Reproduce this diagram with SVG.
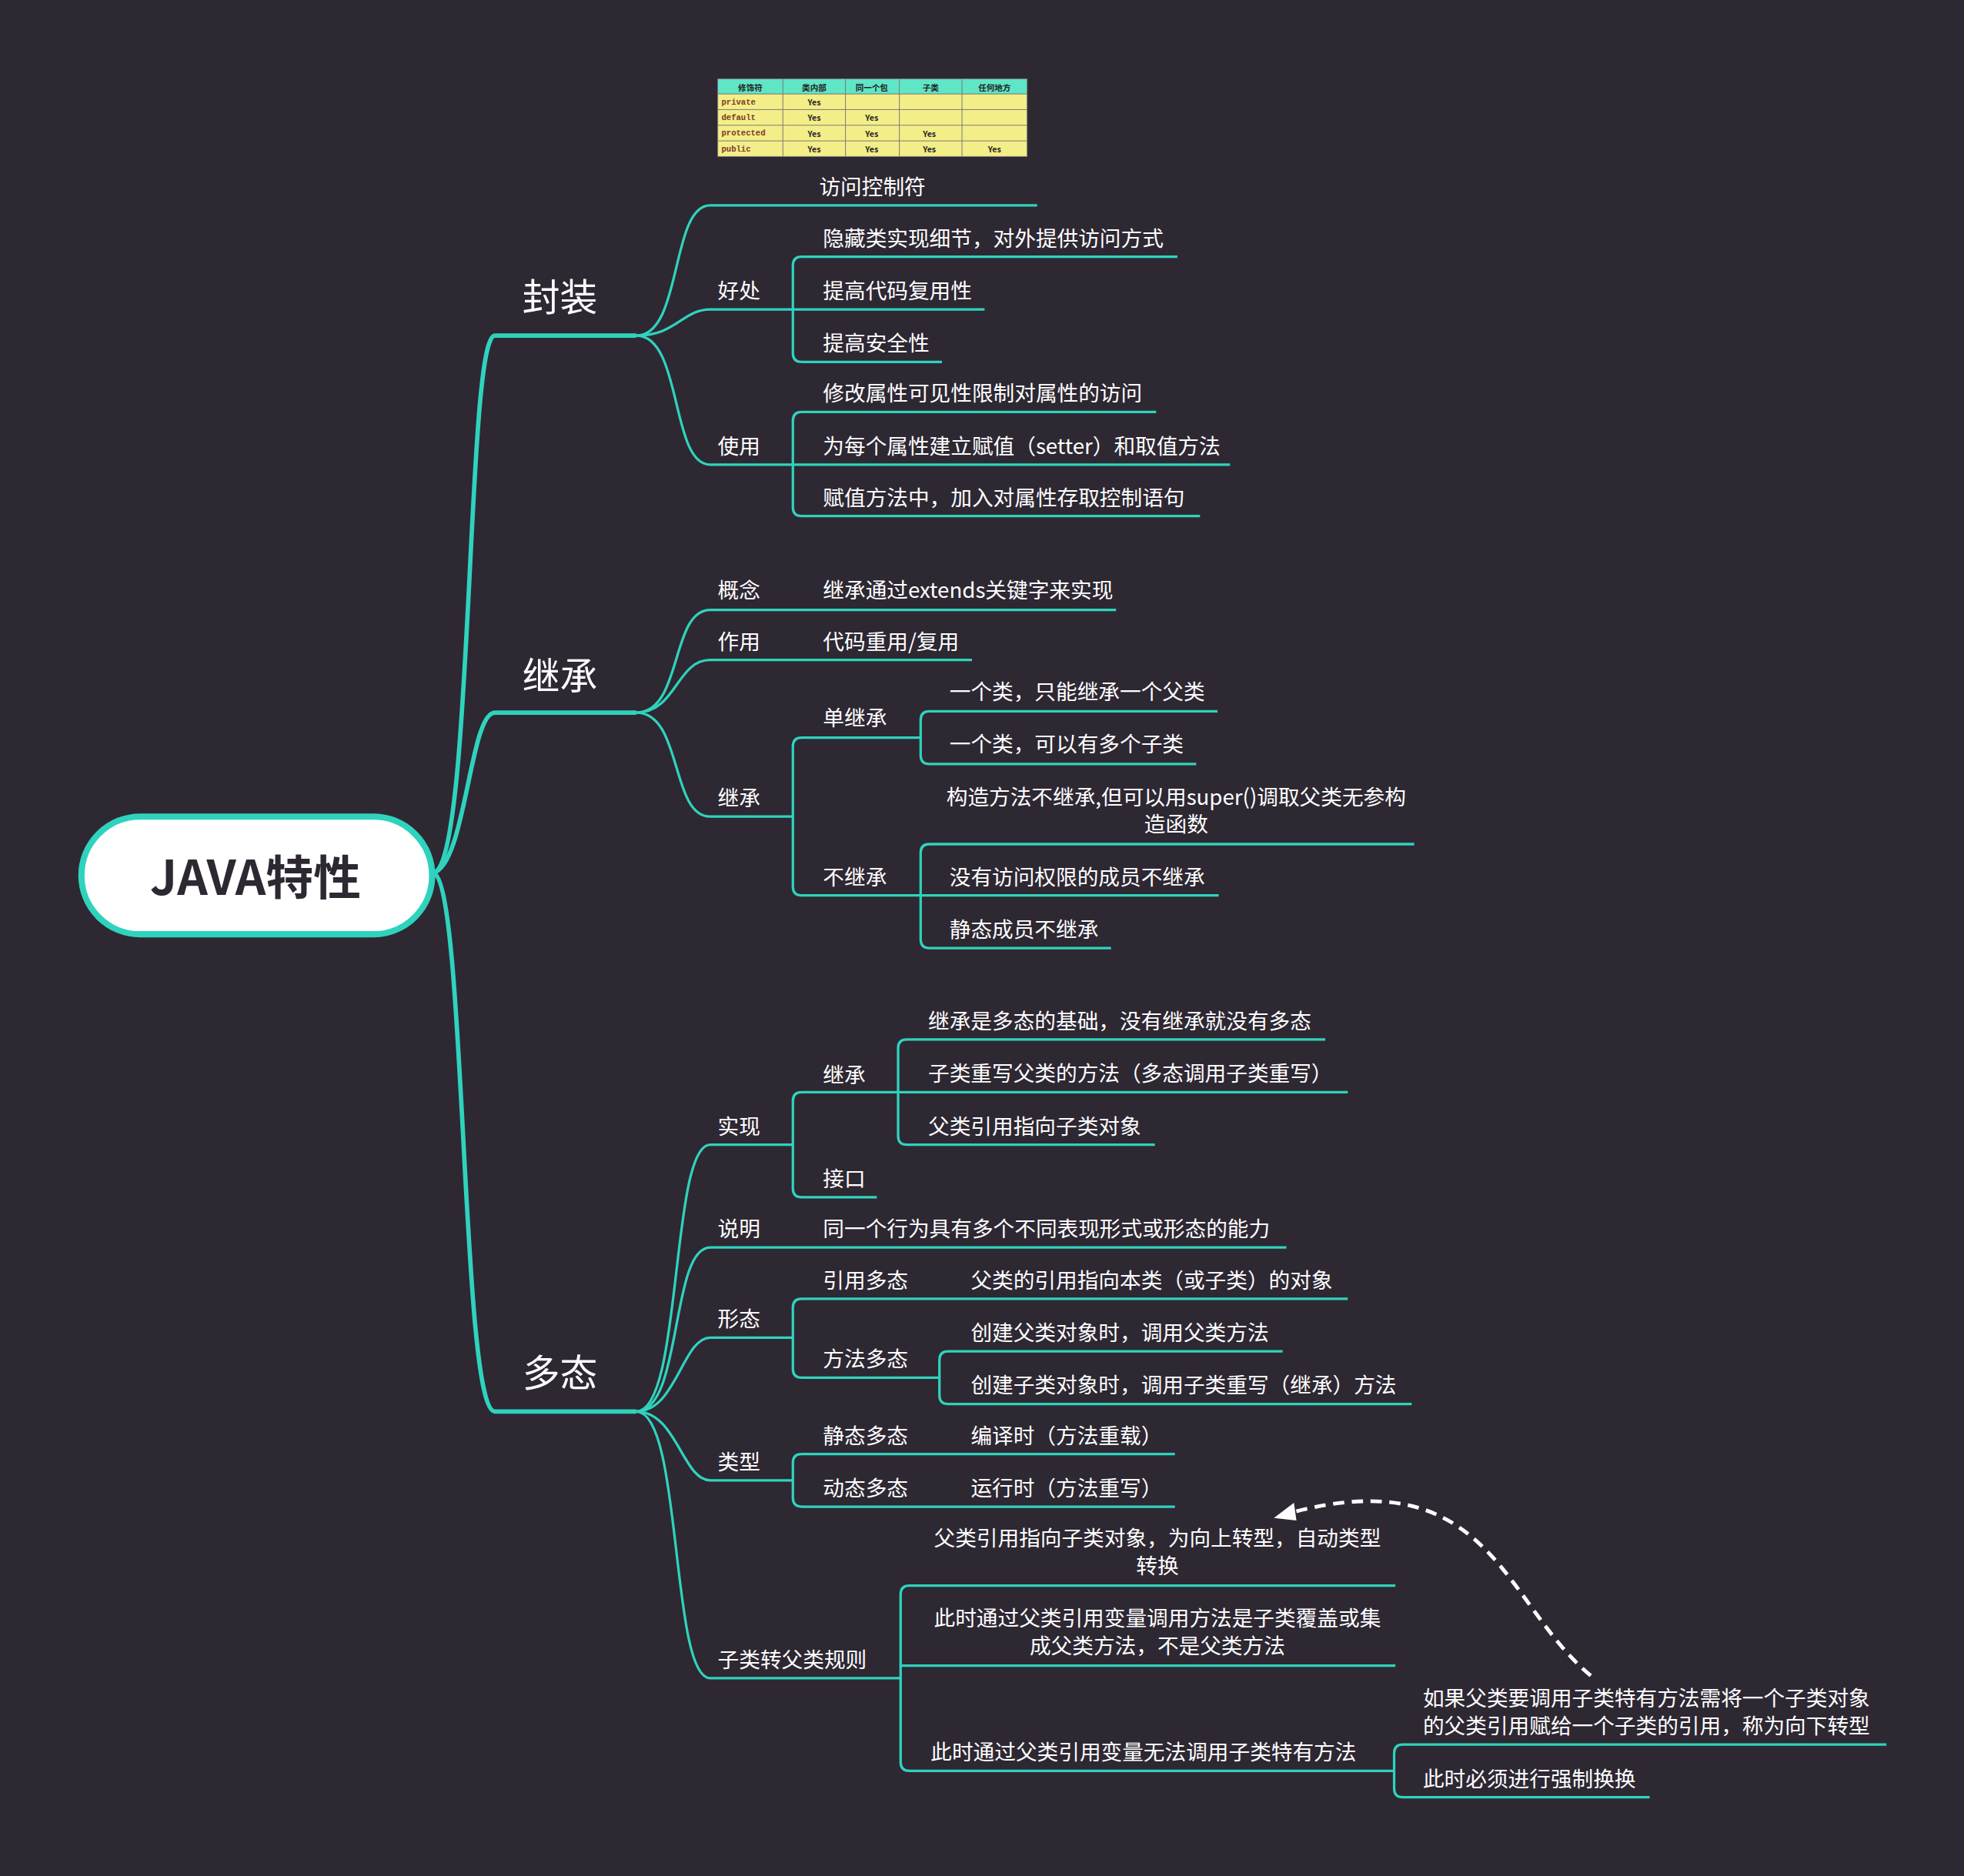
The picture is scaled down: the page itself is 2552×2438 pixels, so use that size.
<svg xmlns="http://www.w3.org/2000/svg" width="2552" height="2438" viewBox="0 0 2552 2438">
<style>
.l{fill:none;stroke:#2fd3bd;stroke-width:2}
.m{fill:none;stroke:#2fd3bd;stroke-width:3.5}
text{font-family:"Noto Sans CJK SC","Noto Sans",sans-serif;fill:#fff;dominant-baseline:central}
.t{font-size:17px}
.h{font-size:30px}
.tb{font-size:6.5px;fill:#222;font-weight:bold;text-anchor:middle}
.tm{font-family:"Liberation Mono",monospace;font-size:6.5px;fill:#7a3a2a;font-weight:bold}
</style>
<rect width="2552" height="2438" fill="#2e2833"/>
<g transform="scale(1.6276)">
<g id="connectors">
<path class="m" d="M346,697 C378,690 372,268 395,268 L508,268"/>
<path class="m" d="M346,697 C372,690 375,569 395,569 L508,569"/>
<path class="m" d="M346,697 C372,704 368,1127 395,1127 L508,1127"/>
<!-- 封装 -->
<path class="l" d="M508,268 C545,268 535,164 567,164 L828,164"/>
<path class="l" d="M508,268 C540,268 545,247 567,247 L633,247"/>
<path class="l" d="M508,268 C545,268 535,371 567,371 L633,371"/>
<path class="l" d="M640,205 L940,205 M640,205 Q633,205 633,212 L633,282 Q633,289 640,289 L752,289 M633,247 L786,247"/>
<path class="l" d="M640,329 L923,329 M640,329 Q633,329 633,336 L633,405 Q633,412 640,412 L958,412 M633,371 L982,371"/>
<!-- 继承 -->
<path class="l" d="M508,569 C545,569 535,487 567,487 L891,487"/>
<path class="l" d="M508,569 C540,569 540,527 567,527 L776,527"/>
<path class="l" d="M508,569 C545,569 535,652 567,652 L633,652"/>
<path class="l" d="M640,589 L735,589 M640,589 Q633,589 633,596 L633,708 Q633,715 640,715 L735,715"/>
<path class="l" d="M742,568 L972,568 M742,568 Q735,568 735,575 L735,603 Q735,610 742,610 L955,610 M735,589 L735,589"/>
<path class="l" d="M742,674 L1129,674 M742,674 Q735,674 735,681 L735,750 Q735,757 742,757 L887,757 M735,715 L973,715"/>
<!-- 多态 -->
<path class="l" d="M508,1127 C545,1127 535,914 567,914 L633,914"/>
<path class="l" d="M508,1127 C545,1127 535,996 567,996 L1027,996"/>
<path class="l" d="M508,1127 C540,1127 545,1068 567,1068 L633,1068"/>
<path class="l" d="M508,1127 C540,1127 545,1182 567,1182 L633,1182"/>
<path class="l" d="M508,1127 C545,1127 535,1340 567,1340 L719,1340"/>
<path class="l" d="M640,872 L717,872 M640,872 Q633,872 633,879 L633,949 Q633,956 640,956 L700,956"/>
<path class="l" d="M724,830 L1058,830 M724,830 Q717,830 717,837 L717,907 Q717,914 724,914 L922,914 M717,872 L1076,872"/>
<path class="l" d="M640,1037 L1076,1037 M640,1037 Q633,1037 633,1044 L633,1093 Q633,1100 640,1100 L750,1100"/>
<path class="l" d="M757,1079 L1024,1079 M757,1079 Q750,1079 750,1086 L750,1114 Q750,1121 757,1121 L1127,1121"/>
<path class="l" d="M640,1161 L938,1161 M640,1161 Q633,1161 633,1168 L633,1196 Q633,1203 640,1203 L938,1203"/>
<path class="l" d="M726,1266 L1114,1266 M726,1266 Q719,1266 719,1273 L719,1407 Q719,1414 726,1414 L1113,1414 M719,1330 L1114,1330"/>
<path class="l" d="M1120,1393 L1506,1393 M1120,1393 Q1113,1393 1113,1400 L1113,1428 Q1113,1435 1120,1435 L1317,1435"/>
<path d="M1270,1338 C1200,1280 1190,1165 1030,1208" fill="none" stroke="#fff" stroke-width="3" stroke-dasharray="9,6"/>
<path d="M1017,1212 L1033,1200 L1035,1214 Z" fill="#fff"/>
</g>
<g id="root">
<rect x="65" y="652" width="280" height="94" rx="47" fill="#fff" stroke="#2fd3bd" stroke-width="5"/>
<text x="204" y="698" text-anchor="middle" style="font-size:38px;font-weight:bold;fill:#2e2833">JAVA特性</text>
</g>
<g id="n-fengzhuang"><text class="h" x="417" y="235">封装</text></g>
<g id="n-jicheng"><text class="h" x="417" y="537">继承</text></g>
<g id="n-duotai"><text class="h" x="417" y="1094">多态</text></g>
<g id="table">
<rect x="573" y="63" width="247" height="12" fill="#5fe6c6"/>
<rect x="573" y="75" width="247" height="50" fill="#f3ee88"/>
<path d="M573,63H820V125H573Z M573,75H820 M573,87.5H820 M573,100H820 M573,112.5H820 M625,63V125 M675,63V125 M718,63V125 M768,63V125" fill="none" stroke="#777" stroke-width="0.6"/>
<text class="tb" x="599" y="69.5">修饰符</text><text class="tb" x="650" y="69.5">类内部</text><text class="tb" x="696" y="69.5">同一个包</text><text class="tb" x="743" y="69.5">子类</text><text class="tb" x="794" y="69.5">任何地方</text>
<text class="tm" x="576" y="81.5">private</text><text class="tm" x="576" y="94">default</text><text class="tm" x="576" y="106.5">protected</text><text class="tm" x="576" y="119">public</text>
<text class="tb" x="650" y="81.5">Yes</text><text class="tb" x="650" y="94">Yes</text><text class="tb" x="696" y="94">Yes</text><text class="tb" x="650" y="106.5">Yes</text><text class="tb" x="696" y="106.5">Yes</text><text class="tb" x="742" y="106.5">Yes</text>
<text class="tb" x="650" y="119">Yes</text><text class="tb" x="696" y="119">Yes</text><text class="tb" x="742" y="119">Yes</text><text class="tb" x="794" y="119">Yes</text>
</g>
<g id="n-fz"><text class="t" x="654" y="148">访问控制符</text></g>
<g id="n-hc"><text class="t" x="573" y="231">好处</text>
<text class="t" x="657" y="189">隐藏类实现细节，对外提供访问方式</text>
<text class="t" x="657" y="231">提高代码复用性</text>
<text class="t" x="657" y="273">提高安全性</text></g>
<g id="n-sy"><text class="t" x="573" y="355">使用</text>
<text class="t" x="657" y="313">修改属性可见性限制对属性的访问</text>
<text class="t" x="657" y="355">为每个属性建立赋值（setter）和取值方法</text>
<text class="t" x="657" y="396">赋值方法中，加入对属性存取控制语句</text></g>
<g id="n-gn"><text class="t" x="573" y="470">概念</text><text class="t" x="657" y="470">继承通过extends关键字来实现</text></g>
<g id="n-zy"><text class="t" x="573" y="511">作用</text><text class="t" x="657" y="511">代码重用/复用</text></g>
<g id="n-jc"><text class="t" x="573" y="636">继承</text>
<text class="t" x="657" y="572">单继承</text>
<text class="t" x="758" y="551">一个类，只能继承一个父类</text>
<text class="t" x="758" y="593">一个类，可以有多个子类</text>
<text class="t" x="657" y="699">不继承</text>
<text class="t" x="939" y="635" text-anchor="middle">构造方法不继承,但可以用super()调取父类无参构</text>
<text class="t" x="939" y="657" text-anchor="middle">造函数</text>
<text class="t" x="758" y="699">没有访问权限的成员不继承</text>
<text class="t" x="758" y="741">静态成员不继承</text></g>
<g id="n-sx"><text class="t" x="573" y="898">实现</text>
<text class="t" x="657" y="857">继承</text>
<text class="t" x="741" y="814">继承是多态的基础，没有继承就没有多态</text>
<text class="t" x="741" y="856">子类重写父类的方法（多态调用子类重写）</text>
<text class="t" x="741" y="898">父类引用指向子类对象</text>
<text class="t" x="657" y="940">接口</text></g>
<g id="n-sm"><text class="t" x="573" y="980">说明</text><text class="t" x="657" y="980">同一个行为具有多个不同表现形式或形态的能力</text></g>
<g id="n-xt"><text class="t" x="573" y="1052">形态</text>
<text class="t" x="657" y="1021">引用多态</text><text class="t" x="775" y="1021">父类的引用指向本类（或子类）的对象</text>
<text class="t" x="657" y="1084">方法多态</text>
<text class="t" x="775" y="1063">创建父类对象时，调用父类方法</text>
<text class="t" x="775" y="1105">创建子类对象时，调用子类重写（继承）方法</text></g>
<g id="n-lx"><text class="t" x="573" y="1166">类型</text>
<text class="t" x="657" y="1145">静态多态</text><text class="t" x="775" y="1145">编译时（方法重载）</text>
<text class="t" x="657" y="1187">动态多态</text><text class="t" x="775" y="1187">运行时（方法重写）</text></g>
<g id="n-zl"><text class="t" x="573" y="1324">子类转父类规则</text>
<text class="t" x="924" y="1227" text-anchor="middle">父类引用指向子类对象，为向上转型，自动类型</text>
<text class="t" x="924" y="1249" text-anchor="middle">转换</text>
<text class="t" x="924" y="1291" text-anchor="middle">此时通过父类引用变量调用方法是子类覆盖或集</text>
<text class="t" x="924" y="1313" text-anchor="middle">成父类方法，不是父类方法</text>
<text class="t" x="743" y="1398">此时通过父类引用变量无法调用子类特有方法</text>
<text class="t" x="1136" y="1355">如果父类要调用子类特有方法需将一个子类对象</text>
<text class="t" x="1136" y="1377">的父类引用赋给一个子类的引用，称为向下转型</text>
<text class="t" x="1136" y="1419">此时必须进行强制换换</text></g>
</g>
</svg>
